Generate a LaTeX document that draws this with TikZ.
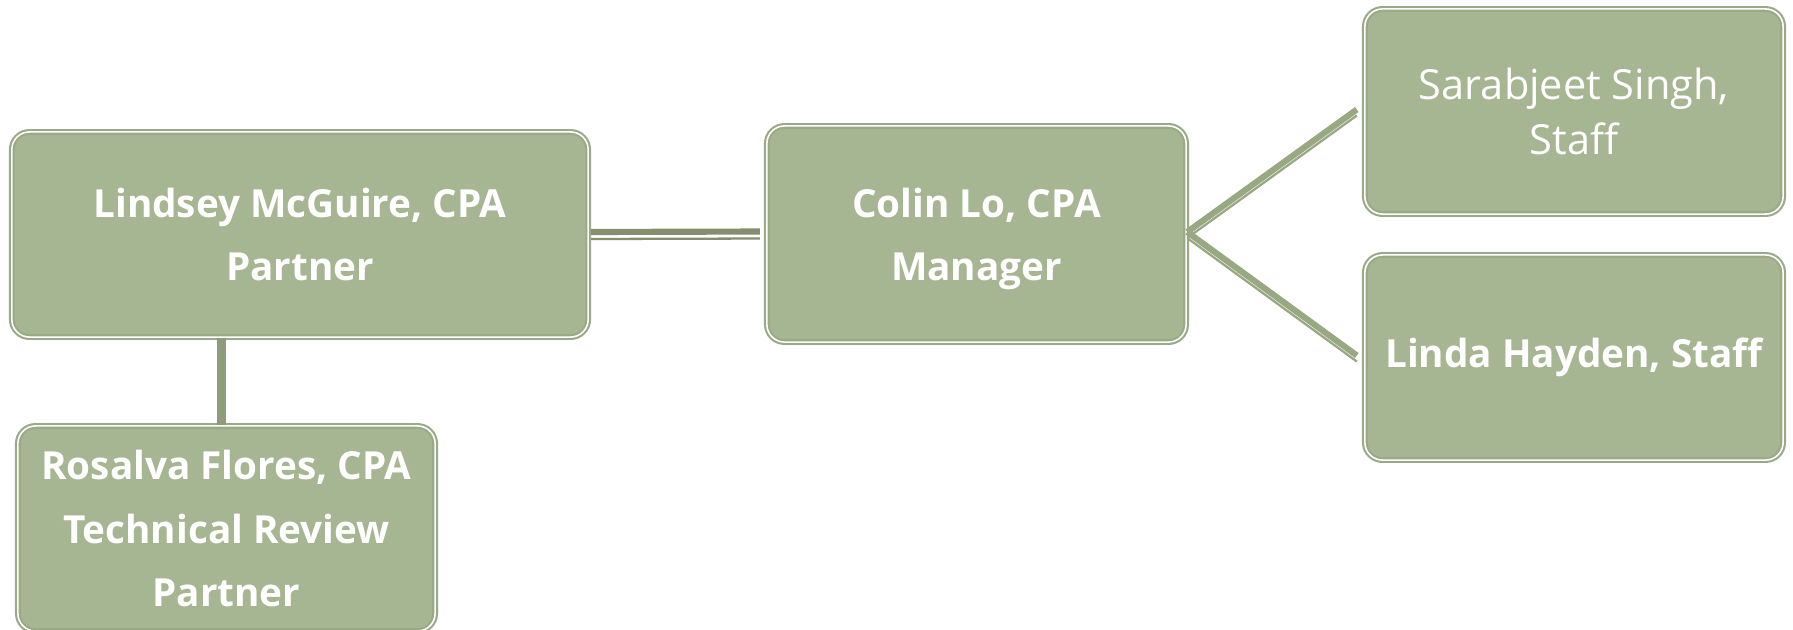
\documentclass[tikz,border=0pt]{standalone}
\usepackage{fontspec}
\setsansfont{Open Sans}
\usetikzlibrary{calc,positioning}

\definecolor{boxgreen}{HTML}{A6B592}
\definecolor{edgegreen}{HTML}{9AAA86}
\definecolor{linkdark}{HTML}{858F70}
\definecolor{linkmid}{HTML}{8E9C7B}
\definecolor{linklight}{HTML}{98A883}

\tikzset{
    member/.style={rectangle, rounded corners=5pt, fill=boxgreen,
        draw=edgegreen, line width=0.6pt, double=white, double distance=0.45pt,
        text=white, align=center, inner sep=2pt,
        font=\sffamily\bfseries\fontsize{11}{18}\selectfont},
    linkthick/.style={line width=1.75pt},
    linkthin/.style={line width=0.65pt}
}

\begin{document}
\begin{tikzpicture}[x=0.01cm, y=-0.01cm]

        \useasboundingbox (0,0) rectangle (1793,630);

        \node[member, minimum width=5.76cm, minimum height=2.05cm] (lind) at (300,234.5)
            {Lindsey McGuire, CPA\\Partner};
        \node[member, minimum width=4.17cm, minimum height=2.05cm] (ros) at (226.5,528.5)
            {Rosalva Flores, CPA\\Technical Review\\Partner};
        \node[member, minimum width=4.19cm, minimum height=2.16cm] (colin) at (976.5,234)
            {Colin Lo, CPA\\\smash{Manager}};
        \node[member, font=\sffamily\fontsize{11.8}{15.5}\selectfont,
            minimum width=4.18cm, minimum height=2.05cm] (sara) at (1574,111.5)
            {Sarabjeet Singh,\\Staff};
        \node[member, minimum width=4.18cm, minimum height=2.05cm] (linda) at (1574,357.5)
            {Linda Hayden, Staff};

        \coordinate (S) at ([xshift=-0.07cm]sara.west);
        \coordinate (L) at ([xshift=-0.07cm]linda.west);
        \coordinate (R) at (ros.north |- lind.south);

        % partner to manager
        \draw[linkthick, linkdark, shorten <=0.02cm, shorten >=0.06cm]
            ([yshift=0.025cm]lind.east) -- ([yshift=0.025cm]colin.west);
        \draw[linkthin, linkdark, shorten <=0.02cm, shorten >=0.06cm]
            ([yshift=-0.045cm]lind.east) -- ([yshift=-0.045cm]colin.west);

        % manager to staff
        \foreach \v in {S,L}
        {
            \draw[linkthick, linklight] ([yshift=0.02cm]colin.east) -- ([yshift=0.02cm]\v);
            \draw[linkthin, linklight] ([yshift=-0.04cm]colin.east) -- ([yshift=-0.04cm]\v);
        };

        % technical review
        \draw[linkthick, linkmid] ([xshift=-0.06cm]R) -- ([xshift=-0.06cm]ros.north);
        \draw[linkthin, linkmid] ([xshift=-0.015cm]R) -- ([xshift=-0.015cm]ros.north);

\end{tikzpicture}
\end{document}
